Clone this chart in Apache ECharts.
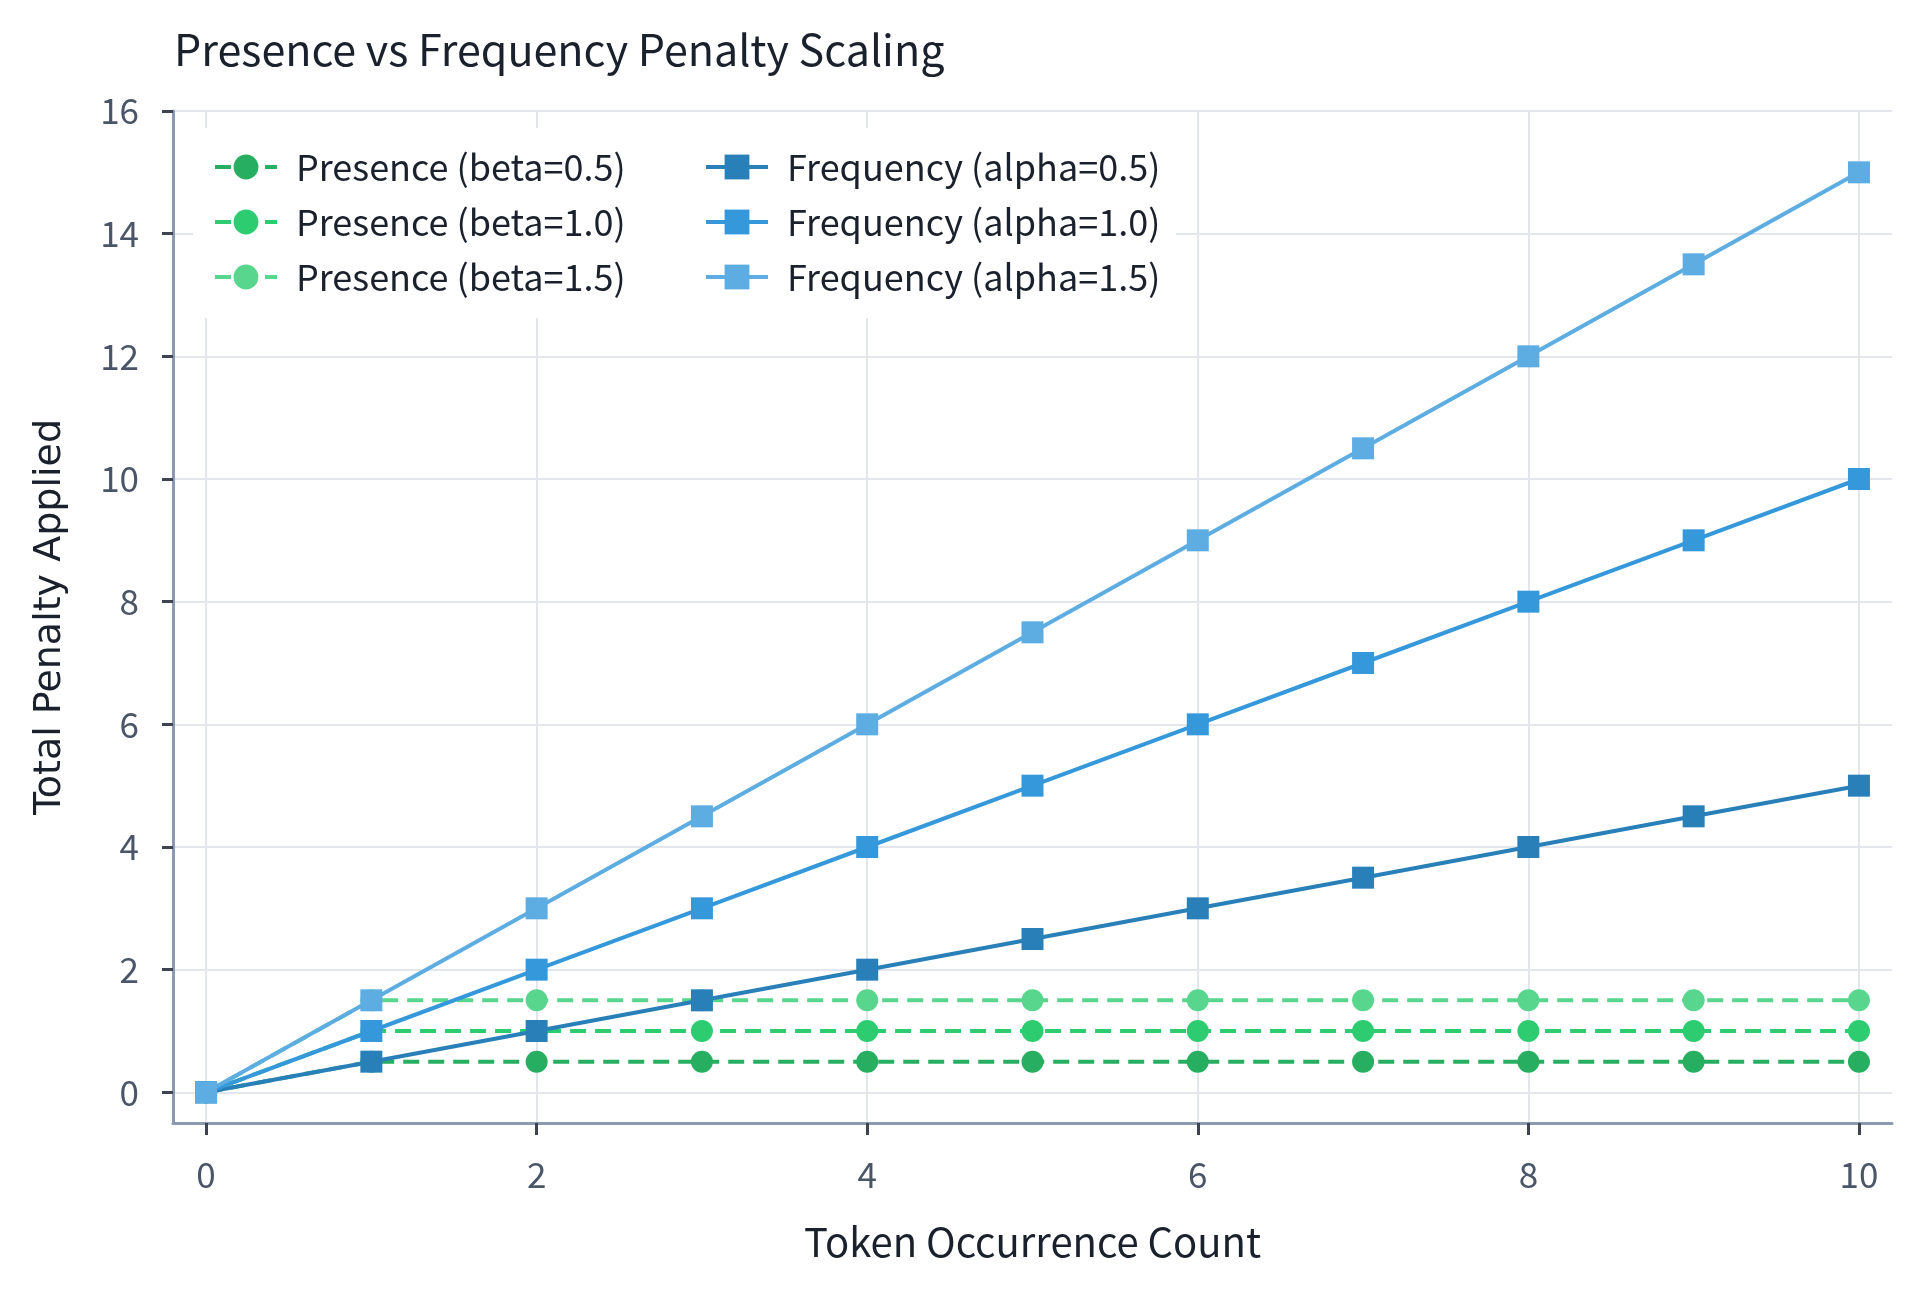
<!DOCTYPE html>
<html>
<head>
<meta charset="utf-8">
<title>Presence vs Frequency Penalty Scaling</title>
<script src="https://cdn.jsdelivr.net/npm/echarts@6/dist/echarts.min.js"></script>
<style>
  html, body { margin: 0; padding: 0; background: #ffffff; }
  #chart { width: 1920px; height: 1292px; }
</style>
</head>
<body>
<div id="chart"></div>
<script>
// token occurrence counts (x)
var counts = [0, 1, 2, 3, 4, 5, 6, 7, 8, 9, 10];

// presence penalty: flat once the token has appeared
var presence05 = [0, 0.5, 0.5, 0.5, 0.5, 0.5, 0.5, 0.5, 0.5, 0.5, 0.5];
var presence10 = [0, 1, 1, 1, 1, 1, 1, 1, 1, 1, 1];
var presence15 = [0, 1.5, 1.5, 1.5, 1.5, 1.5, 1.5, 1.5, 1.5, 1.5, 1.5];

// frequency penalty: grows with every occurrence
var freq05 = [0, 0.5, 1, 1.5, 2, 2.5, 3, 3.5, 4, 4.5, 5];
var freq10 = [0, 1, 2, 3, 4, 5, 6, 7, 8, 9, 10];
var freq15 = [0, 1.5, 3, 4.5, 6, 7.5, 9, 10.5, 12, 13.5, 15];

var xTicks = [0, 2, 4, 6, 8, 10];
var yTicks = [0, 2, 4, 6, 8, 10, 12, 14, 16];

var FONT = '"Noto Sans CJK KR", "Noto Sans", sans-serif';

function pairs(ys) {
  return counts.map(function (c, i) { return [c, ys[i]]; });
}

function presenceSeries(name, ys, color) {
  return {
    name: name,
    type: 'line',
    data: pairs(ys),
    symbol: 'circle',
    symbolSize: 22,
    itemStyle: { color: color },
    lineStyle: { color: color, width: 4, type: [16, 9] }
  };
}

function freqSeries(name, ys, color) {
  return {
    name: name,
    type: 'line',
    data: pairs(ys),
    symbol: 'rect',
    symbolSize: 22,
    itemStyle: { color: color },
    lineStyle: { color: color, width: 4 }
  };
}

var chart = echarts.init(document.getElementById('chart'), null, { renderer: 'canvas' });

var option = {
  backgroundColor: '#ffffff',
  animation: false,
  title: {
    text: 'Presence vs Frequency Penalty Scaling',
    left: 174,
    top: 28,
    padding: 0,
    textStyle: { fontFamily: FONT, fontSize: 43, fontWeight: 'normal', color: '#1a202c' }
  },
  legend: {
    left: 193,
    top: 128,
    width: 970,
    orient: 'horizontal',
    padding: [21, 0, 23, 20],
    itemGap: 19,
    itemWidth: 62,
    itemHeight: 31,
    backgroundColor: '#ffffff',
    lineStyle: { width: 4 },
    data: ['Presence (beta=0.5)', 'Frequency (alpha=0.5)',
           'Presence (beta=1.0)', 'Frequency (alpha=1.0)',
           'Presence (beta=1.5)', 'Frequency (alpha=1.5)'],
    textStyle: {
      fontFamily: FONT, fontSize: 36, color: '#1a202c',
      width: 389, lineHeight: 34, padding: [0, 0, 0, 14]
    }
  },
  grid: {
    left: 173,
    right: 28,
    top: 111,
    bottom: 169,
    containLabel: false,
    outerBoundsMode: 'none'
  },
  xAxis: {
    type: 'value',
    min: -0.2,
    max: 10.2,
    name: 'Token Occurrence Count',
    nameLocation: 'middle',
    nameGap: 99,
    nameTextStyle: { fontFamily: FONT, fontSize: 40, color: '#1a202c' },
    axisLine: { show: true, onZero: false, lineStyle: { color: '#8b9ab1', width: 3 } },
    axisTick: { show: true, length: 12, customValues: xTicks, lineStyle: { color: '#3d4350', width: 3 } },
    axisLabel: { customValues: xTicks, margin: 34, fontFamily: FONT, fontSize: 35, color: '#4a5568' },
    splitLine: { show: true, lineStyle: { color: '#e3e7ed', width: 2 } }
  },
  yAxis: {
    type: 'value',
    min: -0.5,
    max: 16,
    name: 'Total Penalty Applied',
    nameLocation: 'middle',
    nameGap: 104,
    nameTextStyle: { fontFamily: '"DejaVu Sans", sans-serif', fontSize: 38, color: '#1a202c' },
    axisLine: { show: true, onZero: false, lineStyle: { color: '#8b9ab1', width: 3 } },
    axisTick: { show: true, length: 11, customValues: yTicks, lineStyle: { color: '#3d4350', width: 3 } },
    axisLabel: { customValues: yTicks, margin: 34, fontFamily: FONT, fontSize: 35, color: '#4a5568' },
    splitLine: { show: true, lineStyle: { color: '#e3e7ed', width: 2 } }
  },
  series: [
    presenceSeries('Presence (beta=0.5)', presence05, '#27ae60'),
    presenceSeries('Presence (beta=1.0)', presence10, '#2ecc71'),
    presenceSeries('Presence (beta=1.5)', presence15, '#58d68d'),
    freqSeries('Frequency (alpha=0.5)', freq05, '#2980b9'),
    freqSeries('Frequency (alpha=1.0)', freq10, '#3498db'),
    freqSeries('Frequency (alpha=1.5)', freq15, '#5dade2')
  ]
};

chart.setOption(option);
</script>
</body>
</html>
